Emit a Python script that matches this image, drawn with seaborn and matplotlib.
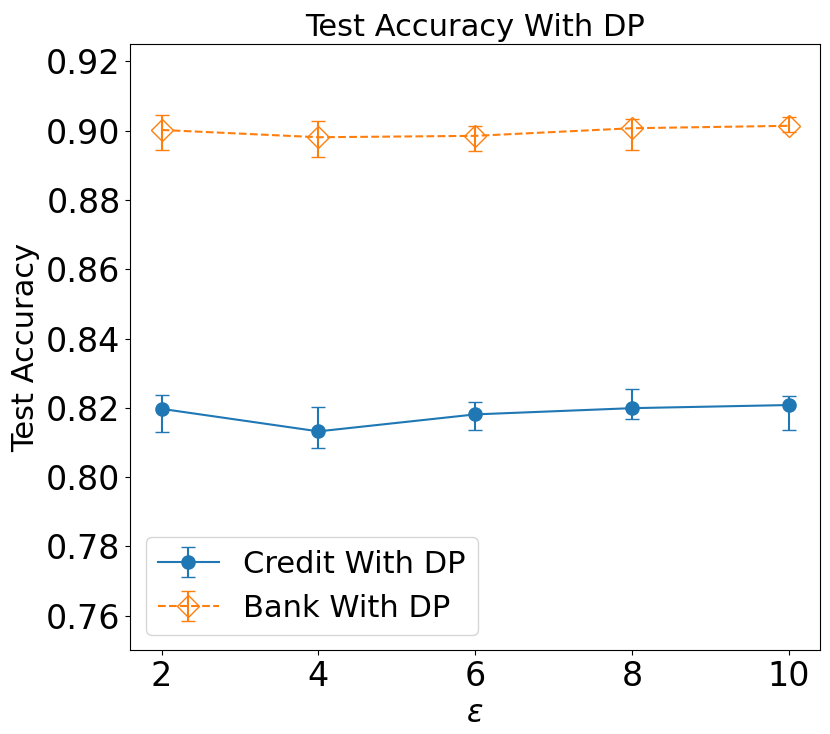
import matplotlib
matplotlib.use('Agg')
import matplotlib.pyplot as plt
import seaborn as sns
import numpy as np

### DATA ###

epsilons = [2, 4, 6, 8, 10]

credit_acc = [0.8197, 0.8132, 0.8181, 0.8199, 0.8208]
credit_upper = [0.8238, 0.8203, 0.8217, 0.8253, 0.8233]
credit_lower = [0.8131, 0.8084, 0.8135, 0.8167, 0.8135]

bank_acc = [0.9002, 0.8981, 0.8985, 0.9007, 0.9014]
bank_upper = [0.9044, 0.9029, 0.9013, 0.9034, 0.9039]
bank_lower = [0.8944, 0.8924, 0.8942, 0.8945, 0.8995]


### TEST ACCURACY WITH DP ###

palette = sns.color_palette('tab10')

fig, ax = plt.subplots(figsize=(8.3, 7.34), dpi=100)

credit_err = [
    np.array(credit_acc) - np.array(credit_lower),
    np.array(credit_upper) - np.array(credit_acc)
]

bank_err = [
    np.array(bank_acc) - np.array(bank_lower),
    np.array(bank_upper) - np.array(bank_acc)
]

ax.errorbar(
    epsilons,
    credit_acc,
    yerr=credit_err,
    color=palette[0],
    marker='o',
    markersize=9.5,
    linestyle='-',
    capsize=5,
    label='Credit With DP'
)

ax.errorbar(
    epsilons,
    bank_acc,
    yerr=bank_err,
    color=palette[1],
    marker='D',
    markersize=11,
    fillstyle='none',
    linestyle='--',
    capsize=5,
    label='Bank With DP'
)

ax.set_ylim(0.75, 0.925)
ax.set_xticks(epsilons)

ax.tick_params(labelsize=24)

ax.set_xlabel(r'$\epsilon$', fontsize=22)
ax.set_ylabel('Test Accuracy', fontsize=22)
ax.set_title('Test Accuracy With DP', fontsize=22)

ax.legend(loc='lower left', fontsize=22)

plt.subplots_adjust(
    left=0.157,
    right=0.988,
    top=0.94,
    bottom=0.114
)

plt.savefig('out.png')
